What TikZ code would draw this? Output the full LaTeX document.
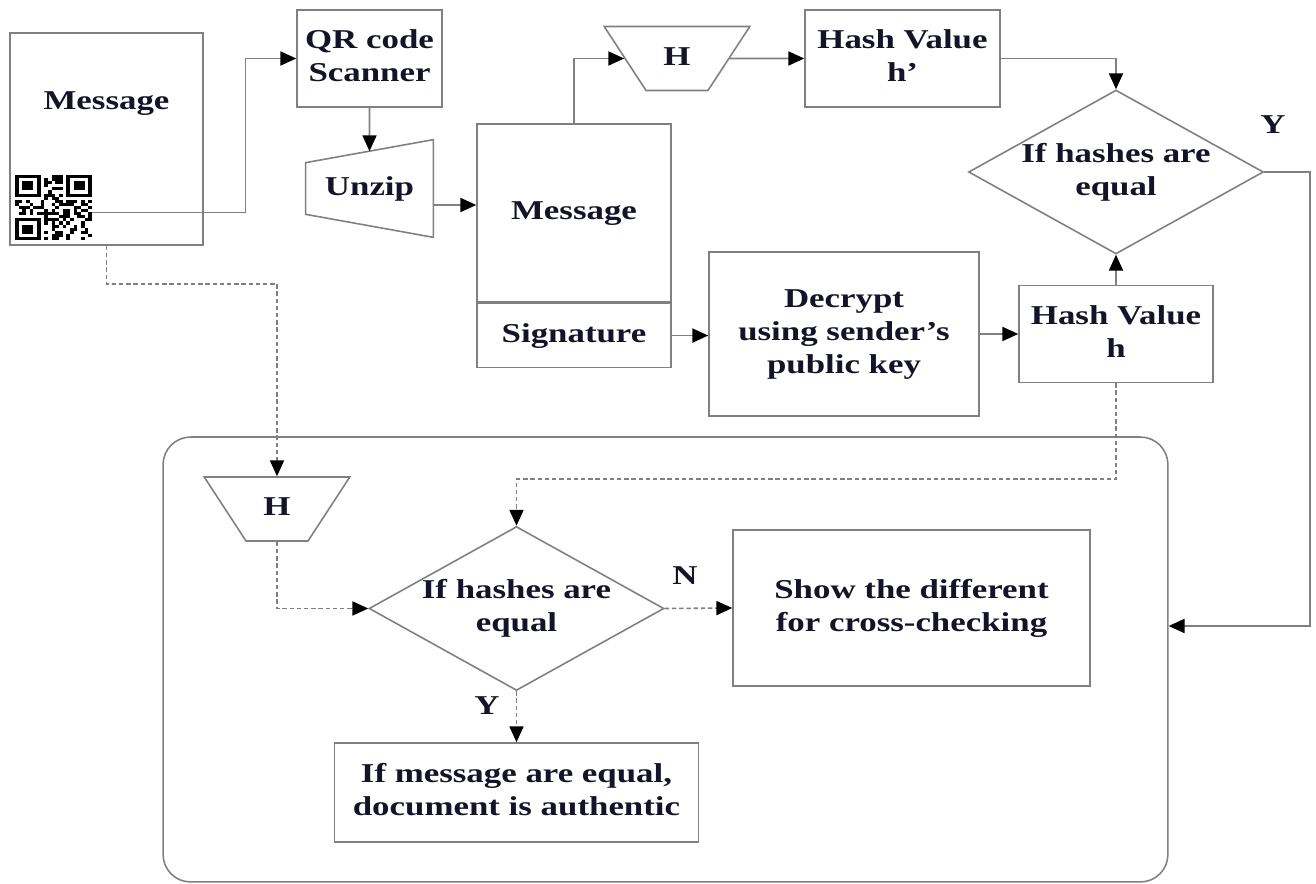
\documentclass[tikz,border=0pt]{standalone}
\usepackage{fontspec}
\setmainfont{Liberation Serif}
\usepackage{graphicx}
\usetikzlibrary{positioning,shapes.geometric,arrows.meta,calc}

\definecolor{inkblue}{rgb}{0.08,0.08,0.16}
\definecolor{linegray}{gray}{0.5}
\newcommand{\wtxt}[1]{\scalebox{1.28}[1]{\begin{tabular}{@{}c@{}}#1\end{tabular}}}

\begin{document}
\begin{tikzpicture}[x=0.02cm, y=-0.02cm,
font=\fontsize{15.5}{18.8}\selectfont\bfseries,
box/.style={rectangle, draw=linegray, line width=0.9pt, text=inkblue, inner sep=0pt},
hashfn/.style={trapezium, trapezium stretches=true, shape border rotate=180, trapezium angle=61, draw=linegray, line width=0.9pt, text=inkblue, inner sep=0pt, minimum width=2.92cm, minimum height=1.28cm},
decision/.style={diamond, aspect=1.8, draw=linegray, line width=0.9pt, text=inkblue, inner sep=-2pt, minimum width=5.9cm, minimum height=3.28cm},
lbl/.style={text=inkblue},
flow/.style={draw=linegray, line width=0.9pt, -{Triangle[length=9pt, width=8pt, color=black]}},
check/.style={flow, dash pattern=on 2.5pt off 1.6pt}
]
\useasboundingbox (0,0) rectangle (1316,884);

\node[box, minimum width=3.86cm, minimum height=4.24cm](msg_in) at (106.5,139){};
\node[lbl](msg_in_title) at (106.5,103){\wtxt{Message}};
\node[inner sep=0pt, minimum width=1.54cm, minimum height=1.3cm](qr_code) at (53.5,207.5){};
\begin{scope}[shift={(15,175)}, x=0.0733cm, y=-0.0619cm]
\pgfmathsetseed{42}
\foreach \i in {0,...,20}{
  \foreach \j in {0,...,20}{
    \pgfmathrandominteger{\qrbit}{0}{1}
    \ifnum\qrbit=1 \fill (\i,\j) rectangle ++(1,1);\fi
  }
}
\foreach \fx/\fy in {0/0,13/0,0/13}{
  \fill[white] (\fx,\fy) rectangle ++(8,8);
}
\foreach \fx/\fy in {0/0,14/0,0/14}{
  \fill (\fx,\fy) rectangle ++(7,7);
  \fill[white] (\fx+1,\fy+1) rectangle ++(5,5);
  \fill (\fx+2,\fy+2) rectangle ++(3,3);
}
\end{scope}

\node[box, minimum width=2.9cm, minimum height=1.94cm](qr_scan) at (369.5,58.5){\wtxt{QR code\\Scanner}};

\node[inner sep=0pt, text=inkblue, minimum width=2.54cm, minimum height=1.94cm](unzip) at (369.5,188.5){\wtxt{Unzip}};
\coordinate (unzip_tl) at ($(unzip.north west)+(0,23)$);
\coordinate (unzip_bl) at ($(unzip.south west)+(0,-23)$);
\coordinate (unzip_in) at ($(unzip_tl)!0.5!(unzip.north east)$);
\draw[draw=linegray, line width=0.9pt] (unzip_tl) -- (unzip.north east) -- (unzip.south east) -- (unzip_bl) -- cycle;

\node[box, minimum width=3.88cm, minimum height=3.56cm](msg_body) at (574,213){\wtxt{Message}};
\node[box, minimum width=3.88cm, minimum height=1.28cm](msg_sig)[below=0pt of msg_body]{\wtxt{Signature}};
\coordinate (body_in) at ([yshift=0.16cm]msg_body.west);

\node[hashfn](hash_fn) at (677,58.5){\wtxt{H}};
\node[box, minimum width=3.9cm, minimum height=1.94cm](hash_new) at (902.5,58.5){\wtxt{Hash Value\\h’}};
\node[decision](cmp_top) at (1116,172){\wtxt{If hashes are\\equal}};
\node[box, minimum width=5.4cm, minimum height=3.28cm](decrypt) at (844,334){\wtxt{Decrypt\\using sender’s\\public key}};
\node[box, minimum width=3.88cm, minimum height=1.94cm](hash_old) at (1116,334){\wtxt{Hash Value\\h}};

\node[draw=linegray, line width=0.9pt, rounded corners=0.55cm, minimum width=20.1cm, minimum height=8.9cm](check_frame) at (665.5,659.5){};
\node[hashfn](hash_fn2) at (277,509){\wtxt{H}};
\node[decision](cmp_low) at (516.5,608.5){\wtxt{If hashes are\\equal}};
\node[box, minimum width=7.14cm, minimum height=3.12cm](show_diff) at (911.5,608){\wtxt{Show the different\\for cross-checking}};
\node[box, minimum width=7.28cm, minimum height=1.98cm](auth_ok) at (516.5,792.5){\wtxt{If message are equal,\\document is authentic}};

\draw[flow] ([yshift=-0.1cm]qr_code.east) -- ++(153,0) |- (qr_scan.west);
\draw[flow] (qr_scan.south) -- (unzip_in);
\draw[flow] (body_in -| unzip.east) -- (body_in);
\draw[flow] (msg_body.north) |- (hash_fn.west);
\draw[flow] (hash_fn.east) -- (hash_new.west);
\draw[flow] (hash_new.east) -| (cmp_top.north);
\draw[flow] (hash_old.north) -- (cmp_top.south);
\draw[flow] (msg_sig.east) -- (msg_sig.east -| decrypt.west);
\draw[flow] (decrypt.east) -- (hash_old.west);
\draw[flow] (cmp_top.east) -- ++(46,0) |- ([yshift=0.67cm]check_frame.east);
\node[lbl](yes_top) at (1273,127){\wtxt{Y}};

\draw[check] (msg_in.south) -- ++(0,38) -| (hash_fn2.north);
\draw[check] (hash_fn2.south) |- (cmp_low.west);
\draw[check] (hash_old.south) -- ++(0,96) -| (cmp_low.north);
\draw[check] (cmp_low.east) -- (show_diff.west);
\draw[check] (cmp_low.south) -- (auth_ok.north);
\node[lbl](no_low) at (685,578){\wtxt{N}};
\node[lbl](yes_low) at (487,708){\wtxt{Y}};
\end{tikzpicture}
\end{document}
